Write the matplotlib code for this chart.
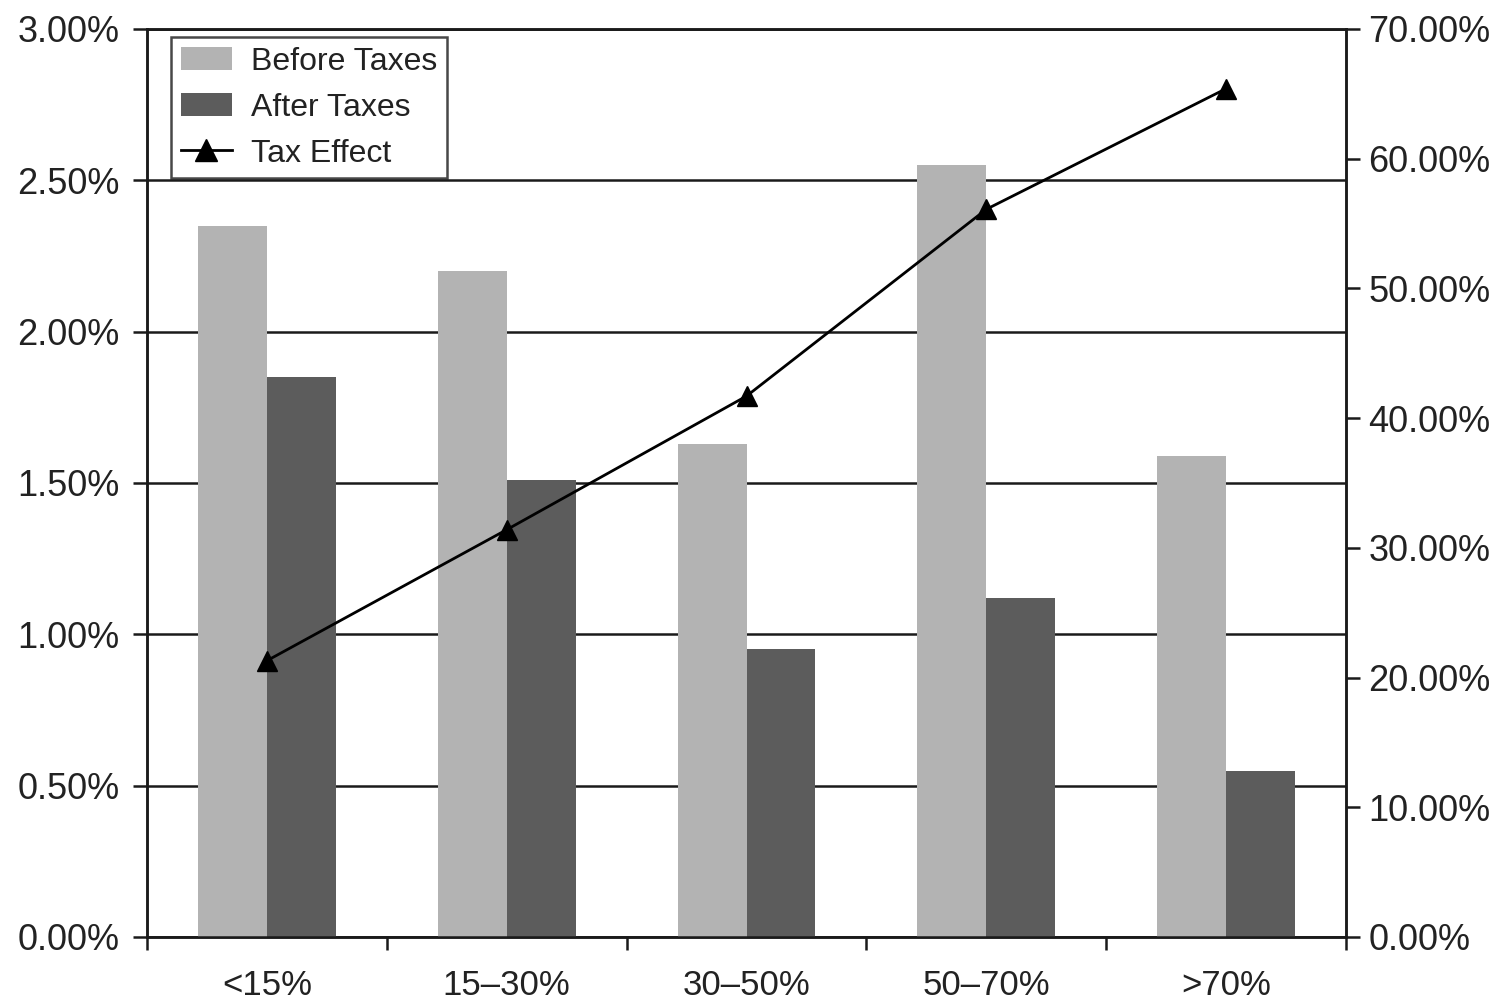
import numpy as np
import matplotlib.pyplot as plt
from matplotlib.ticker import FuncFormatter, FixedLocator

# ── Data ─────────────────────────────────────────────────────────────────────
CATEGORIES = ["<15%", "15\u201330%", "30\u201350%", "50\u201370%", ">70%"]
BEFORE_TAXES = [2.35, 2.20, 1.63, 2.55, 1.59]   # % (left axis)
AFTER_TAXES = [1.85, 1.51, 0.95, 1.12, 0.55]    # % (left axis)
TAX_EFFECT = [21.3, 31.4, 41.7, 56.1, 65.4]     # % (right axis)

COLOR_BEFORE = "#b3b3b3"
COLOR_AFTER = "#5c5c5c"
LINE_COLOR = "#1a1a1a"

plt.rcParams["font.family"] = ["Liberation Sans", "DejaVu Sans"]
plt.rcParams["text.color"] = "#222222"

fig = plt.figure(figsize=(15.05, 10.02), dpi=100)
ax = fig.add_axes([0.0977, 0.0649, 0.7967, 0.9062])

x = np.arange(len(CATEGORIES))
w = 0.2875

ax.bar(x - w / 2, BEFORE_TAXES, width=w, color=COLOR_BEFORE, label="Before Taxes", zorder=3)
ax.bar(x + w / 2, AFTER_TAXES, width=w, color=COLOR_AFTER, label="After Taxes", zorder=3)

ax.set_xlim(-0.5, len(CATEGORIES) - 0.5)
ax.set_ylim(0, 3.0)
ax.set_yticks(np.arange(0, 3.01, 0.5))
ax.yaxis.set_major_formatter(FuncFormatter(lambda v, _: f"{v:.2f}%"))
ax.grid(axis="y", color=LINE_COLOR, linewidth=1.8, zorder=1)

ax.set_xticks(x)
ax.set_xticklabels(CATEGORIES)
ax.xaxis.set_minor_locator(FixedLocator(np.arange(-0.5, len(CATEGORIES), 1.0)))
ax.tick_params(axis="x", which="major", length=0, pad=23, labelsize=25,
               labelcolor="#222222")
ax.tick_params(axis="x", which="minor", length=9, width=1.8, color=LINE_COLOR)
ax.tick_params(axis="y", length=10, width=1.8, color=LINE_COLOR, labelsize=26,
               pad=10, labelcolor="#222222")

for side in ["left", "right", "top", "bottom"]:
    ax.spines[side].set_color(LINE_COLOR)
    ax.spines[side].set_linewidth(1.8)

# Tax effect on secondary axis
ax2 = ax.twinx()
ax2.plot(x, TAX_EFFECT, color="black", linewidth=2, marker="^", markersize=15,
         label="Tax Effect", zorder=4)
ax2.set_ylim(0, 70)
ax2.set_yticks(np.arange(0, 70.1, 10))
ax2.yaxis.set_major_formatter(FuncFormatter(lambda v, _: f"{v:.2f}%"))
ax2.tick_params(axis="y", length=10, width=1.8, color=LINE_COLOR, labelsize=26,
                pad=6, labelcolor="#222222")
for side in ["left", "right", "top", "bottom"]:
    ax2.spines[side].set_color(LINE_COLOR)
    ax2.spines[side].set_linewidth(1.8)

h1, l1 = ax.get_legend_handles_labels()
h2, l2 = ax2.get_legend_handles_labels()
leg = ax2.legend(h1 + h2, l1 + l2, loc="upper left", bbox_to_anchor=(0.02, 0.991),
                 fontsize=23, frameon=True, fancybox=False, borderpad=0.3,
                 labelspacing=0.5, handlelength=1.6, handletextpad=0.6,
                 borderaxespad=0, markerscale=1.1)
leg.get_frame().set_edgecolor(LINE_COLOR)
leg.get_frame().set_linewidth(1.8)

fig.savefig("out.png", dpi=100)
